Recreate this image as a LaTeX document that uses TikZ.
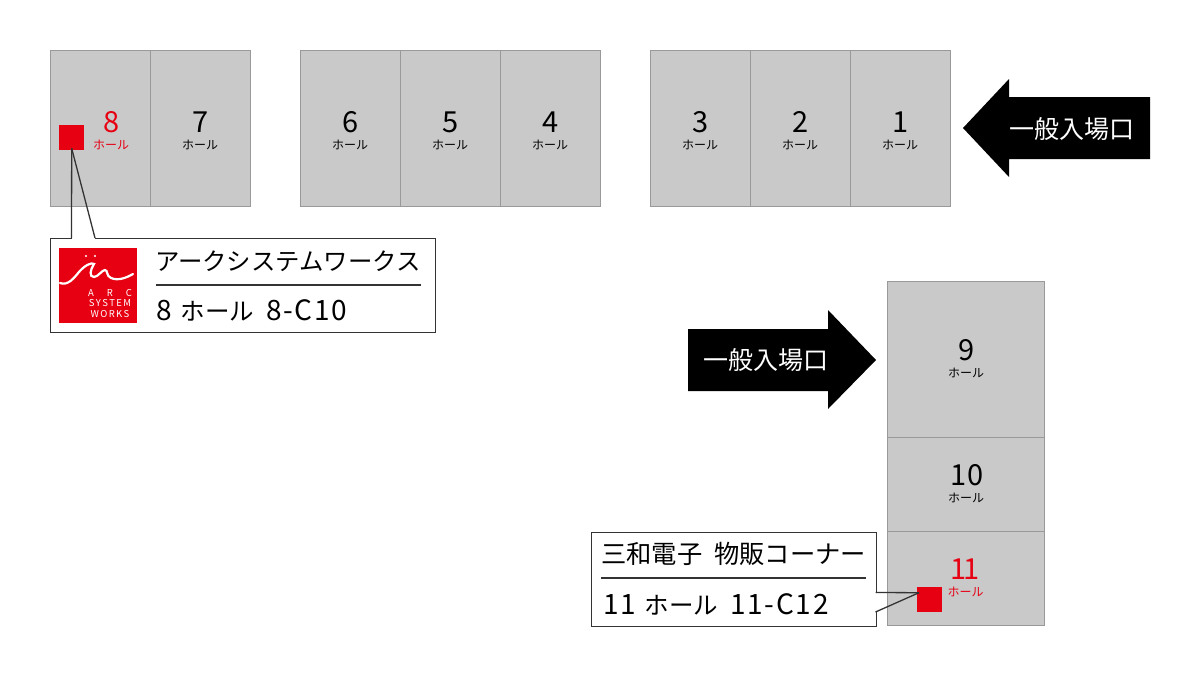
\documentclass[tikz,border=0pt]{standalone}
\usepackage{fontspec}
\setmainfont{Noto Sans CJK JP}
\newfontfamily\numfont[LetterSpace=6]{Noto Sans CJK JP}
\definecolor{hallgray}{HTML}{C9C9C9}
\definecolor{hallline}{HTML}{999999}
\definecolor{arcred}{HTML}{E60012}
\definecolor{boxline}{HTML}{333333}
\newcommand{\hallfont}[1]{\fontsize{#1}{#1}\selectfont}
\newcommand{\placeline}[2]{{\numfont\hallfont{28}#1}\hspace{9pt}{\hallfont{24.5}ホール}\hspace{12pt}{\numfont\hallfont{28}#2}}
\tikzset{
  hallbox/.style={draw=hallline, fill=hallgray, line width=1pt},
  halllabel/.style={align=center, inner sep=0pt, text=black},
  boothmark/.style={fill=arcred, inner sep=0pt, minimum size=25pt},
  callout/.style={draw=boxline, fill=white, line width=1.3pt, inner sep=0pt},
  calloutline/.style={boxline, line width=1.3pt},
  entrance/.style={fill=black},
  entrancetext/.style={text=white, inner sep=0pt, font=\hallfont{25}},
  boothtext/.style={anchor=west, inner sep=0pt, text=black, font=\hallfont{24.4}},
  logotext/.style={inner sep=0pt, text=white, font=\hallfont{9.5}},
}
\begin{document}
\begin{tikzpicture}[x=1pt, y=-1pt]
\useasboundingbox (0,0) rectangle (1200,675);
% halls
\foreach \xa/\xb in {50/150, 150/250, 300/400, 400/500, 500/600, 650/750, 750/850, 850/950}
  \draw[hallbox] (\xa,50) rectangle (\xb,206);
\draw[hallbox] (887,281) rectangle (1044,437);
\draw[hallbox] (887,437) rectangle (1044,531);
\draw[hallbox] (887,531) rectangle (1044,625);
% hall labels
\foreach \n/\x/\y/\c in {8/111/122/arcred, 7/200/122/black, 6/350/122/black, 5/450/122/black, 4/550/122/black, 3/700/122/black, 2/800/122/black, 1/900/122/black, 9/966/350/black, 10/966/475/black} {
  \node[halllabel, text=\c, font=\hallfont{29}] (num\n) at (\x+1,\y) {\n};
  \node[halllabel, text=\c, font=\hallfont{12}] (name\n) at (\x,\y+22.5) {ホール};
}
\node[halllabel, text=arcred, font=\hallfont{29}] (num11) at (965,569) {1\kern-4pt 1};
\node[halllabel, text=arcred, font=\hallfont{12}] (name11) at (965.5,591.5) {ホール};
% entrances
\fill[entrance] (963,128) -- (1009,79) -- (1009,97) -- (1150,97) -- (1150,159) -- (1009,159) -- (1009,177) -- cycle;
\node[entrancetext] (gate1) at (1071.5,129) {一般入場口};
\fill[entrance] (876,360) -- (828,310) -- (828,329) -- (688,329) -- (688,391) -- (828,391) -- (828,409) -- cycle;
\node[entrancetext] (gate2) at (766,360) {一般入場口};
% booth 8
\node[boothmark, anchor=north west] (mark8) at (59,125) {};
\node[callout, minimum width=384.5pt, minimum height=93.5pt, anchor=north west] (box8) at (50,238) {};
\coordinate (foot8a) at (71.5,238);
\coordinate (foot8b) at (95,238);
\draw[white, line width=2.5pt] (foot8a) -- (foot8b);
\draw[calloutline] (mark8.south) ++(0,-2) -- (foot8a);
\draw[calloutline] (mark8.south) ++(0,-2) -- (foot8b);
\fill[arcred] (59,248) rectangle (137,323);
% logo
\fill[white] (86,256) circle (1.2pt) (95,256) circle (1.2pt);
\draw[white, line width=2.2pt, line cap=round] (60,283) .. controls (68,286) and (74,278) .. (79,272) .. controls (85,265) and (92,262) .. (94,264)
  .. controls (90,270) and (89,277) .. (94,277) .. controls (98,277) and (102,270) .. (105,270) .. controls (108,270) and (106,276) .. (111,278) .. controls (118,281) and (126,278) .. (133,274);
\node[logotext] (logoa) at (110,293) {A\hspace{13pt}R\hspace{13pt}C};
\node[logotext] (logob) at (110,303) {S\hspace{1.4pt}Y\hspace{1.4pt}S\hspace{1.4pt}T\hspace{1.4pt}E\hspace{1.4pt}M};
\node[logotext] (logoc) at (110,314) {W\hspace{1.4pt}O\hspace{1.4pt}R\hspace{1.4pt}K\hspace{1.4pt}S};
\node[boothtext] (title8) at (155,261) {アークシステムワークス};
\draw[calloutline] (156,285) -- (421,285);
\node[boothtext] (place8) at (156,310) {\placeline{8}{8-C10}};
% booth 11
\node[boothmark, anchor=north west] (mark11) at (917,587) {};
\node[callout, minimum width=284.5pt, minimum height=93.5pt, anchor=north west] (box11) at (591,532) {};
\coordinate (foot11a) at (875.5,592.5);
\coordinate (foot11b) at (875.5,612);
\draw[white, line width=2.5pt] (foot11a) -- (foot11b);
\draw[calloutline] (mark11.west) ++(2,-7) -- (foot11a);
\draw[calloutline] (mark11.west) ++(2,-7) -- (foot11b);
\node[boothtext, font=\hallfont{25.3}] (title11) at (601,554) {三和電子\hspace{12pt}物販コーナー};
\draw[calloutline] (601,578) -- (866,578);
\node[boothtext] (place11) at (603,604) {\placeline{11}{11-C12}};
\end{tikzpicture}
\end{document}
